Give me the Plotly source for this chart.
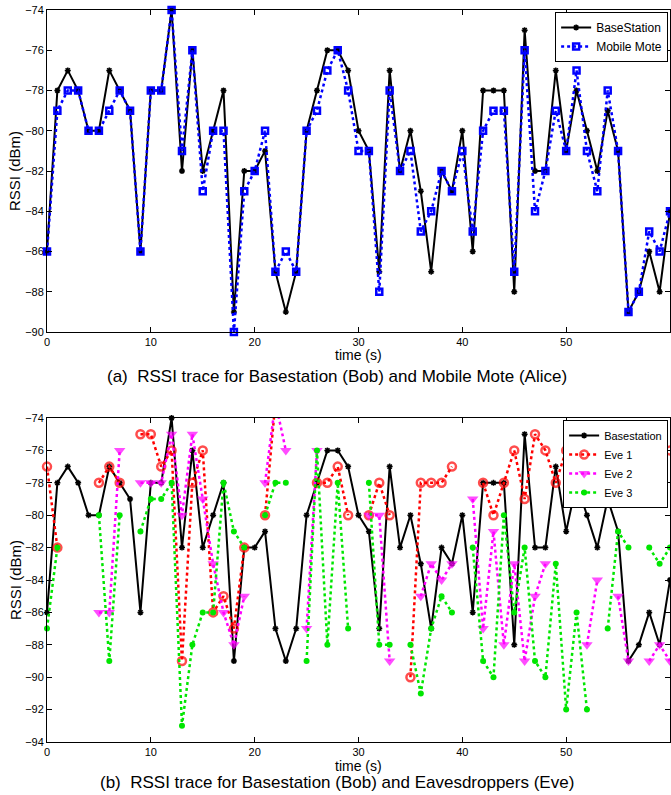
import plotly.graph_objects as go

nan = None
t = list(range(61))

bob = [-86, -78, -77, -78, -80, -80, -77, -78, -79, -86,
       -78, -78, -74, -82, -76, -82, -80, -78, -89, -82,
       -82, -81, -87, -89, -87, -80, -78, -76, -76, -77,
       -80, -81, -87, -77, -82, -80, -83, -87, -82, -83,
       -80, -86, -78, -78, -78, -88, -75, -82, -82, -77,
       -81, -78, -80, -82, -79, -81, -89, -88, -86, -88,
       -84]

alice = [-86, -79, -78, -78, -80, -80, -79, -78, -79, -86,
         -78, -78, -74, -81, -76, -83, -80, -80, -90, -83,
         -82, -80, -87, -86, -87, -80, -79, -77, -76, -78,
         -81, -81, -88, -78, -82, -81, -85, -84, -82, -83,
         -81, -85, -80, -79, -79, -87, -76, -84, -82, -79,
         -81, -77, -81, -83, -78, -81, -89, -88, -85, -86,
         -84]

eve1 = [-77, -82, nan, nan, nan, -78, -77, -78, nan, -75,
        -75, -77, -76, -89, -78, -76, -86, -85, -87, -82,
        nan, -80, -73, nan, nan, nan, -78, -78, -77, -80,
        nan, -80, -78, -80, nan, -90, -78, -78, -78, -77,
        nan, nan, -78, -80, -78, -76, -79, -75, -76, -78,
        -76, -78, -78, -77, -79, -78, -78, nan, nan, nan,
        -76]

eve2 = [nan, nan, nan, nan, nan, -86, -86, -76, nan, -78,
        -78, -78, -75, -80, -75, -79, -83, -86, -88, -85,
        nan, -78, -73, -76, nan, -87, -76, nan, nan, nan,
        nan, -80, -80, -89, nan, nan, -85, -83, -84, -83,
        nan, -79, -87, -81, -88, -83, -89, -85, -83, nan,
        nan, nan, -88, -84, nan, -85, -89, nan, -89, -88,
        -89]

eve3 = [-87, -82, nan, nan, nan, -80, -89, -80, nan, -81,
        -79, -79, -78, -93, -88, -86, -86, -78, -81, -82,
        nan, -80, -78, -78, nan, -89, -76, -88, -78, -87,
        nan, -78, -88, -88, nan, -88, -91, -87, -85, -86,
        nan, -82, -89, -90, -80, -86, -82, -89, -90, -83,
        -92, -86, -92, nan, -87, -81, -82, nan, -82, -83,
        -82]

x_ticks = [0, 10, 20, 30, 40, 50, 60]
y_ticks_a = list(range(-90, -73, 2))
y_ticks_b = list(range(-94, -73, 2))


def sizes(vals, s, top):
    return [0 if (v is not None and v > top) else s for v in vals]


fig = go.Figure()

# (a)
fig.add_trace(go.Scatter(x=t, y=bob, name="BaseStation", mode="lines+markers",
                         line=dict(color="black", width=2),
                         marker=dict(symbol="asterisk-open", size=5, color="black",
                                     line=dict(width=1.5, color="black")),
                         xaxis="x", yaxis="y", legend="legend", cliponaxis=False))
fig.add_trace(go.Scatter(x=t, y=alice, name="Mobile Mote", mode="lines+markers",
                         line=dict(color="#0000ff", width=2.5, dash="dot"),
                         marker=dict(symbol="square-open", size=6, color="#0000ff",
                                     line=dict(width=2.5, color="#0000ff")),
                         xaxis="x", yaxis="y", legend="legend", cliponaxis=False))

# (b)
fig.add_trace(go.Scatter(x=t, y=bob, name="Basestation", mode="lines+markers",
                         line=dict(color="black", width=2),
                         marker=dict(symbol="asterisk-open", size=5, color="black",
                                     line=dict(width=1.5, color="black")),
                         xaxis="x2", yaxis="y2", legend="legend2", cliponaxis=False))
fig.add_trace(go.Scatter(x=t, y=eve1, name="Eve 1", mode="lines+markers",
                         line=dict(color="#ff0000", width=2.5, dash="dot"),
                         marker=dict(symbol="circle-open", size=sizes(eve1, 8, -74), color="#ff0000",
                                     line=dict(width=2.5, color="#ff0000")),
                         xaxis="x2", yaxis="y2", legend="legend2", cliponaxis=False))
fig.add_trace(go.Scatter(x=t, y=eve2, name="Eve 2", mode="lines+markers",
                         line=dict(color="#ff00ff", width=2.5, dash="dot"),
                         marker=dict(symbol="triangle-down", size=sizes(eve2, 10, -74), color="#ff00ff",
                                     line=dict(width=0)),
                         xaxis="x2", yaxis="y2", legend="legend2", cliponaxis=False))
fig.add_trace(go.Scatter(x=t, y=eve3, name="Eve 3", mode="lines+markers",
                         line=dict(color="#00e600", width=2.5, dash="dot"),
                         marker=dict(symbol="circle", size=6, color="#00e600", line=dict(width=0)),
                         xaxis="x2", yaxis="y2", legend="legend2", cliponaxis=False))

H_TOP, H_BOT = 10, 742
PH = H_BOT - H_TOP


def py(p):
    return (H_BOT - p) / PH


axis_common = dict(showgrid=False, zeroline=False, showline=True, linecolor="black",
                   linewidth=1, mirror="ticks", ticks="inside", ticklen=5,
                   tickcolor="black", tickfont=dict(size=11, color="black"))

fig.update_layout(
    width=671, height=795,
    margin=dict(l=47, r=1, t=H_TOP, b=795 - H_BOT, pad=0),
    paper_bgcolor="white", plot_bgcolor="white",
    font=dict(family="Liberation Sans, Arial, sans-serif", color="black"),
    xaxis=dict(domain=[0, 1], range=[0, 60], tickvals=x_ticks, anchor="y", **axis_common),
    yaxis=dict(domain=[py(332), 1], range=[-90, -74], tickvals=y_ticks_a, anchor="x", **axis_common),
    xaxis2=dict(domain=[0, 1], range=[0, 60], tickvals=x_ticks, anchor="y2", **axis_common),
    yaxis2=dict(domain=[0, py(418)], range=[-94, -74], tickvals=y_ticks_b, anchor="x2", **axis_common),
    legend=dict(x=0.997, y=py(12), xanchor="right", yanchor="top", bgcolor="white",
                bordercolor="black", borderwidth=1, font=dict(size=12), tracegroupgap=0,
                itemwidth=30),
    legend2=dict(x=0.997, y=py(420), xanchor="right", yanchor="top", bgcolor="white",
                 bordercolor="black", borderwidth=1, font=dict(size=11), tracegroupgap=0,
                 itemwidth=30),
    showlegend=True,
)

ann = [
    dict(text="time (s)", x=0.5, y=py(355), xref="paper", yref="paper", showarrow=False,
         font=dict(size=14), yanchor="middle"),
    dict(text="(a)  RSSI trace for Basestation (Bob) and Mobile Mote (Alice)", x=(337 - 47) / 623,
         y=py(376), xref="paper", yref="paper", showarrow=False, font=dict(size=17), yanchor="middle"),
    dict(text="time (s)", x=0.5, y=py(766), xref="paper", yref="paper", showarrow=False,
         font=dict(size=14), yanchor="middle"),
    dict(text="(b)  RSSI trace for Basestation (Bob) and Eavesdroppers (Eve)", x=(337 - 47) / 623,
         y=py(783), xref="paper", yref="paper", showarrow=False, font=dict(size=17), yanchor="middle"),
    dict(text="RSSI (dBm)", x=(15 - 47) / 623, y=py(171), xref="paper", yref="paper", showarrow=False,
         font=dict(size=15), textangle=-90, xanchor="center", yanchor="middle"),
    dict(text="RSSI (dBm)", x=(15 - 47) / 623, y=py(580), xref="paper", yref="paper", showarrow=False,
         font=dict(size=15), textangle=-90, xanchor="center", yanchor="middle"),
]
fig.update_layout(annotations=ann)

fig.write_html("out.html", config={"displayModeBar": False},
               post_script="document.body.style.margin='0';document.body.style.overflow='hidden';")
